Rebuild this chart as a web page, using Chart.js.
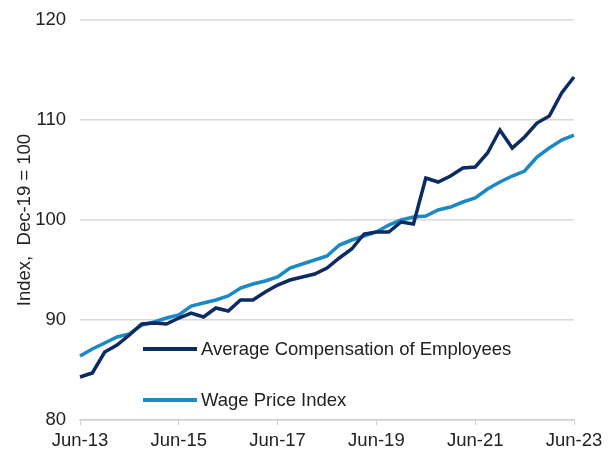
<!DOCTYPE html>
<html lang="en">
<head>
    <meta charset="UTF-8">
    <title>Average Compensation vs Wage Price Index</title>
    <script src="https://cdn.jsdelivr.net/npm/chart.js"></script>
    <style>
        html, body { margin: 0; padding: 0; background: #fff; }
        #wrap { width: 611px; height: 452px; }
    </style>
</head>
<body>
    <div id="wrap"><canvas id="wageChart"></canvas></div>
    <script>
        // quarterly, Jun-13 .. Jun-23 (index, Dec-19 = 100)
        const quarters = [
            'Jun-13', 'Sep-13', 'Dec-13', 'Mar-14', 'Jun-14', 'Sep-14', 'Dec-14', 'Mar-15',
            'Jun-15', 'Sep-15', 'Dec-15', 'Mar-16', 'Jun-16', 'Sep-16', 'Dec-16', 'Mar-17',
            'Jun-17', 'Sep-17', 'Dec-17', 'Mar-18', 'Jun-18', 'Sep-18', 'Dec-18', 'Mar-19',
            'Jun-19', 'Sep-19', 'Dec-19', 'Mar-20', 'Jun-20', 'Sep-20', 'Dec-20', 'Mar-21',
            'Jun-21', 'Sep-21', 'Dec-21', 'Mar-22', 'Jun-22', 'Sep-22', 'Dec-22', 'Mar-23',
            'Jun-23'
        ];

        const avgCompensation = [
            84.3, 84.7, 86.8, 87.5, 88.5, 89.6, 89.7, 89.6,
            90.2, 90.7, 90.3, 91.2, 90.9, 92.0, 92.0, 92.8,
            93.5, 94.0, 94.3, 94.6, 95.2, 96.2, 97.1, 98.6,
            98.8, 98.8, 99.8, 99.6, 104.2, 103.8, 104.4, 105.2,
            105.3, 106.7, 109.0, 107.2, 108.3, 109.7, 110.4, 112.7,
            114.3
        ];

        const wagePriceIndex = [
            86.4, 87.1, 87.7, 88.3, 88.6, 89.5, 89.8, 90.2,
            90.5, 91.4, 91.7, 92.0, 92.4, 93.2, 93.6, 93.9,
            94.3, 95.2, 95.6, 96.0, 96.4, 97.5, 98.0, 98.4,
            98.8, 99.5, 100.0, 100.3, 100.4, 101.0, 101.3, 101.8,
            102.2, 103.1, 103.8, 104.4, 104.9, 106.3, 107.2, 108.0,
            108.5
        ];

        const labelEvery = 8;
        const font = "'Liberation Sans', Arial, sans-serif";
        const textColor = '#222222';
        const axisColor = '#d0d0d0';

        // legend drawn inside the plot area, lower left
        const insideLegend = {
            id: 'insideLegend',
            afterDraw(chart) {
                const ctx = chart.ctx;
                const area = chart.chartArea;
                const x0 = area.left + 63;
                const rows = [area.bottom - 71, area.bottom - 20];
                ctx.save();
                ctx.font = '18.5px ' + font;
                ctx.textBaseline = 'middle';
                chart.data.datasets.forEach((ds, i) => {
                    ctx.strokeStyle = ds.borderColor;
                    ctx.lineWidth = 4;
                    ctx.beginPath();
                    ctx.moveTo(x0, rows[i]);
                    ctx.lineTo(x0 + 54, rows[i]);
                    ctx.stroke();
                    ctx.fillStyle = textColor;
                    ctx.fillText(ds.label, x0 + 58, rows[i] + 1);
                });
                ctx.restore();
            }
        };

        const ctx = document.getElementById('wageChart').getContext('2d');
        new Chart(ctx, {
            type: 'line',
            data: {
                labels: quarters,
                datasets: [
                    {
                        label: 'Average Compensation of Employees',
                        data: avgCompensation,
                        borderColor: '#0c2b63',
                        borderWidth: 3.5,
                        pointRadius: 0,
                        tension: 0
                    },
                    {
                        label: 'Wage Price Index',
                        data: wagePriceIndex,
                        borderColor: '#1b89c6',
                        borderWidth: 3.5,
                        pointRadius: 0,
                        tension: 0
                    }
                ]
            },
            options: {
                responsive: true,
                maintainAspectRatio: false,
                animation: false,
                layout: { padding: { top: 0, right: 37, left: 0, bottom: 0 } },
                plugins: {
                    legend: { display: false },
                    tooltip: { enabled: false }
                },
                scales: {
                    x: {
                        grid: {
                            drawOnChartArea: false,
                            tickLength: 5,
                            color: c => (c.index % labelEvery === 0 ? axisColor : 'rgba(0,0,0,0)')
                        },
                        border: { display: true, color: axisColor, width: 1.5 },
                        ticks: {
                            autoSkip: false,
                            maxRotation: 0,
                            padding: 5,
                            color: textColor,
                            font: { family: font, size: 18.5 },
                            callback: (v, i) => (i % labelEvery === 0 ? quarters[i] : '')
                        },
                        afterFit: s => { s.height = 32; }
                    },
                    y: {
                        min: 80,
                        max: 120,
                        ticks: {
                            stepSize: 10,
                            padding: 14,
                            color: textColor,
                            font: { family: font, size: 18.5, lineHeight: 0.65 }
                        },
                        grid: { color: '#d9d9d9', lineWidth: 1.5, drawTicks: false },
                        border: { display: false },
                        title: {
                            display: true,
                            text: 'Index,  Dec-19 = 100',
                            color: textColor,
                            padding: { top: 14, bottom: 0 },
                            font: { family: font, size: 18.5 }
                        },
                        afterFit: s => { s.width = 80; }
                    }
                }
            },
            plugins: [insideLegend]
        });
    </script>
</body>
</html>
